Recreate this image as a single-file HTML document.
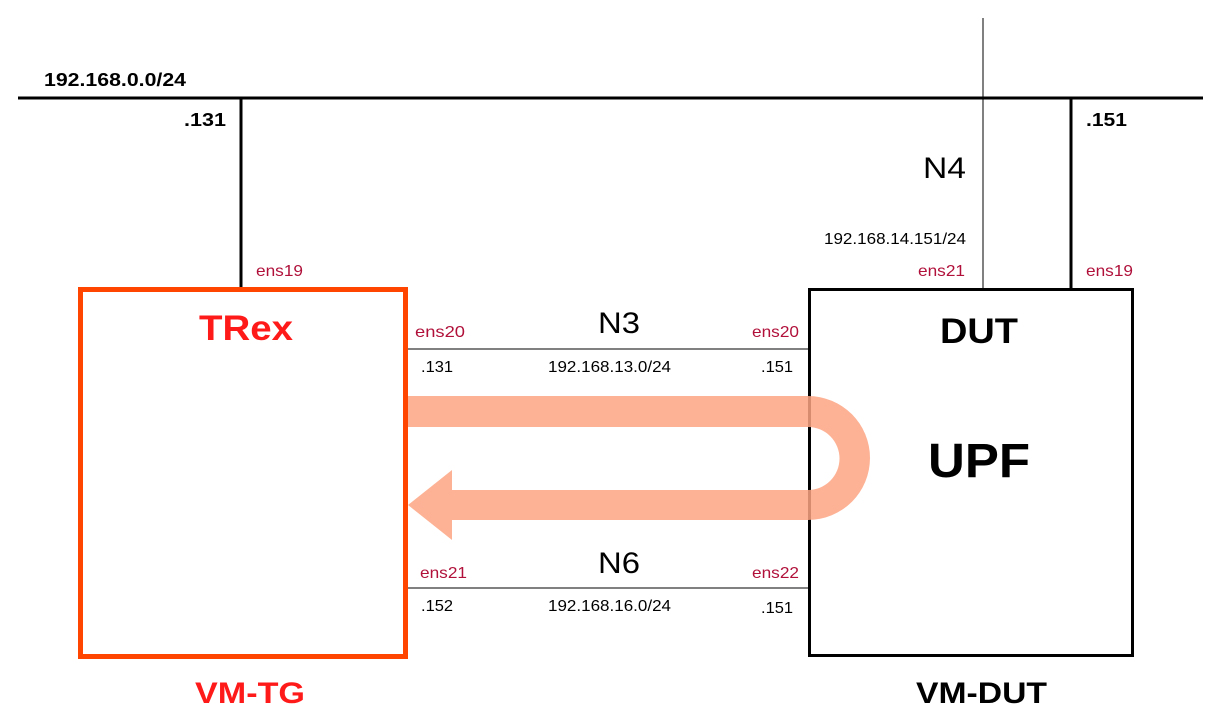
<!DOCTYPE html>
<html><head><style>
body{margin:0;background:#fff;width:1222px;height:719px;overflow:hidden}
svg text{font-family:"Liberation Sans",sans-serif}
</style></head><body>
<svg width="1222" height="719" xmlns="http://www.w3.org/2000/svg">
<line x1="18" y1="98" x2="1203" y2="98" stroke="#000" stroke-width="3"/>
<line x1="241" y1="98" x2="241" y2="288" stroke="#000" stroke-width="3"/>
<line x1="1071" y1="98" x2="1071" y2="288" stroke="#000" stroke-width="3"/>
<line x1="983" y1="18" x2="983" y2="288" stroke="#000" stroke-width="1"/>
<line x1="408" y1="349" x2="808" y2="349" stroke="#000" stroke-width="1"/>
<line x1="408" y1="588" x2="808" y2="588" stroke="#000" stroke-width="1"/>
<rect x="809.5" y="289.5" width="323" height="366" fill="none" stroke="#000" stroke-width="3"/>
<path d="M408 396 H808 A62 62 0 0 1 808 520 H452 V540 L408 505 L452 470 V490 H808 A31 31 0 0 0 808 427 H408 Z" fill="#fda583" fill-opacity="0.85"/>
<rect x="80.5" y="289.5" width="325" height="367" fill="none" stroke="#ff4500" stroke-width="5"/>
<g font-size="18" font-weight="bold" fill="#000" lengthAdjust="spacingAndGlyphs">
<text x="44" y="86" textLength="142" lengthAdjust="spacingAndGlyphs">192.168.0.0/24</text>
<text x="184" y="126" textLength="42" lengthAdjust="spacingAndGlyphs">.131</text>
<text x="1086" y="126" textLength="41" lengthAdjust="spacingAndGlyphs">.151</text>
</g>
<text x="923" y="178" font-size="30" textLength="43" lengthAdjust="spacingAndGlyphs">N4</text>
<text x="824" y="244" font-size="16" textLength="142" lengthAdjust="spacingAndGlyphs">192.168.14.151/24</text>
<g font-size="16" fill="#b0103a">
<text x="256" y="276" textLength="47" lengthAdjust="spacingAndGlyphs">ens19</text>
<text x="918" y="276" textLength="47" lengthAdjust="spacingAndGlyphs">ens21</text>
<text x="1086" y="276" textLength="47" lengthAdjust="spacingAndGlyphs">ens19</text>
<text x="415" y="337" textLength="50" lengthAdjust="spacingAndGlyphs">ens20</text>
<text x="752" y="337" textLength="47" lengthAdjust="spacingAndGlyphs">ens20</text>
<text x="420" y="578" textLength="47" lengthAdjust="spacingAndGlyphs">ens21</text>
<text x="752" y="578" textLength="47" lengthAdjust="spacingAndGlyphs">ens22</text>
</g>
<g font-size="16" fill="#000">
<text x="421" y="372" textLength="32" lengthAdjust="spacingAndGlyphs">.131</text>
<text x="548" y="372" textLength="123" lengthAdjust="spacingAndGlyphs">192.168.13.0/24</text>
<text x="761" y="372" textLength="32" lengthAdjust="spacingAndGlyphs">.151</text>
<text x="421" y="611" textLength="32" lengthAdjust="spacingAndGlyphs">.152</text>
<text x="548" y="611" textLength="123" lengthAdjust="spacingAndGlyphs">192.168.16.0/24</text>
<text x="761" y="613" textLength="32" lengthAdjust="spacingAndGlyphs">.151</text>
</g>
<text x="598" y="333" font-size="30" textLength="42" lengthAdjust="spacingAndGlyphs">N3</text>
<text x="598" y="573" font-size="30" textLength="42" lengthAdjust="spacingAndGlyphs">N6</text>
<text x="199" y="340" font-size="35" font-weight="bold" fill="#ff1a1a" textLength="94" lengthAdjust="spacingAndGlyphs">TRex</text>
<text x="940" y="343" font-size="35" font-weight="bold" textLength="78" lengthAdjust="spacingAndGlyphs">DUT</text>
<text x="928" y="477" font-size="48" font-weight="bold" textLength="102" lengthAdjust="spacingAndGlyphs">UPF</text>
<text x="195" y="703" font-size="30" font-weight="bold" fill="#ff1a1a" textLength="110" lengthAdjust="spacingAndGlyphs">VM-TG</text>
<text x="916" y="703" font-size="30" font-weight="bold" textLength="131" lengthAdjust="spacingAndGlyphs">VM-DUT</text>
</svg>
</body></html>
